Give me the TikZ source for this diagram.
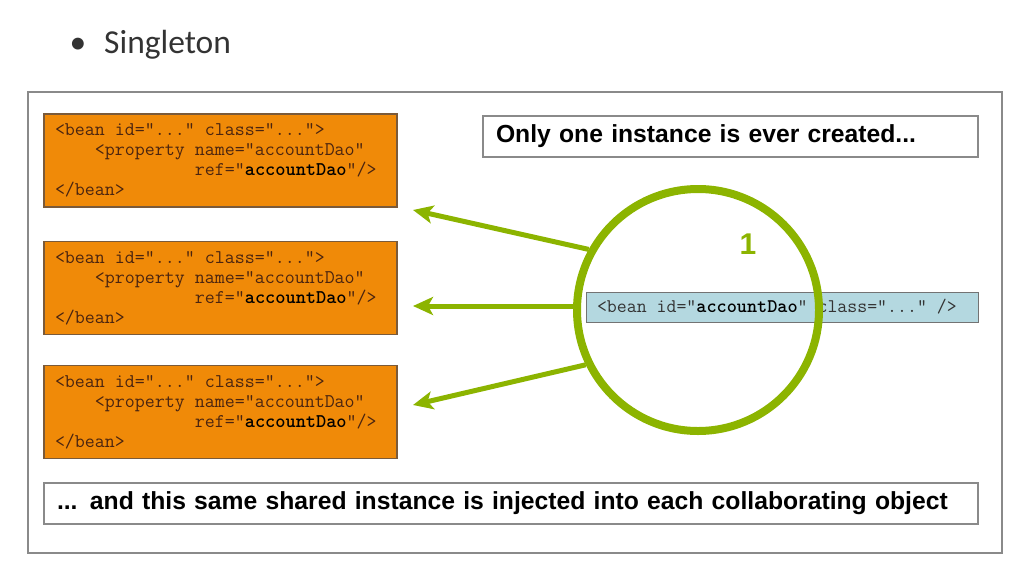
\documentclass[tikz,border=0pt]{standalone}
\usepackage{fontspec}
\newfontfamily\calfont{Carlito}
\newfontfamily\arialfont{Liberation Sans}
\usetikzlibrary{arrows.meta}
\definecolor{sgreen}{HTML}{8CB400}
\definecolor{sorange}{HTML}{F08A08}
\definecolor{sorangeedge}{HTML}{7A5A3A}
\definecolor{sbrown}{HTML}{4A2410}
\definecolor{sblue}{HTML}{B4D8E0}
\definecolor{sframe}{HTML}{8A8A8A}
\newcommand{\sq}{\phantom{x}}
\tikzset{
  x=1pt, y=-1pt,
  beanbox/.style={draw=sorangeedge, line width=1.2pt, fill=sorange, minimum width=353pt, minimum height=93pt,
    text width=331pt, inner xsep=11pt, align=left, text=sbrown,
    font=\ttfamily\fontsize{19.4}{20}\selectfont},
  callout/.style={draw=sframe, line width=1.2pt, fill=white, inner xsep=13pt, align=left,
    font=\arialfont\bfseries\fontsize{24.7}{26}\selectfont, text=black},
  shot/.style={draw=sgreen, line width=5pt, -{Stealth[length=20pt,width=18pt,inset=5pt]}},
}
\newcommand{\bk}[1]{\textbf{\color{black}#1}}
\newcommand{\beantext}{<bean\sq{}id="..."\sq{}class="...">\\\phantom{xxxx}<property\sq{}name="accountDao"\\\phantom{xxxxxxxxxxxxxx}ref="\bk{accountDao}"/>\\</bean>}
\begin{document}
\begin{tikzpicture}
\useasboundingbox (0,0) rectangle (1035,573);
\node[anchor=west, font=\calfont\fontsize{33.5}{35}\selectfont, text=black!80] (title) at (66,45) {\textbullet\hspace{18pt}Singleton};
\node[draw=sframe, line width=1.5pt, minimum width=974pt, minimum height=461pt, inner sep=0pt] (frame) at (515,322.5) {};
\node[beanbox] (o1) at (220.5,160.5) {\beantext};
\node[beanbox] (o2) at (220.5,288) {\beantext};
\node[beanbox] (o3) at (220.5,412) {\beantext};
\node[callout, minimum width=495pt, minimum height=41pt, text width=469pt] (top) at (730.5,136.5) {Only one instance is ever created...};
\node[callout, minimum width=934pt, minimum height=41pt, text width=908pt] (bottom) at (511,503.5) {... and this same shared instance is injected into each collaborating object};
\node[draw=black!55, line width=1pt, fill=sblue, minimum width=392pt, minimum height=30pt, text width=370pt, inner xsep=11pt, align=left,
  font=\ttfamily\fontsize{19.3}{20}\selectfont, text=black!80] (bean) at (782,307) {<bean\sq{}id="\bk{accountDao}"\sq{}class="..."\sq{}/>};
\node[circle, draw=sgreen, line width=8pt, minimum size=242pt, inner sep=0pt] (c) at (698,310) {};
\node[text=sgreen, font=\arialfont\bfseries\fontsize{30}{32}\selectfont] (one) at (748,244) {1};
\coordinate (t1) at (413,210);
\coordinate (t2) at (413,306);
\coordinate (t3) at (413,405);
\draw[shot] (c.151) -- (t1);
\draw[shot] (c.west |- t2) -- (t2);
\draw[shot] (c.206) -- (t3);
\end{tikzpicture}
\end{document}
